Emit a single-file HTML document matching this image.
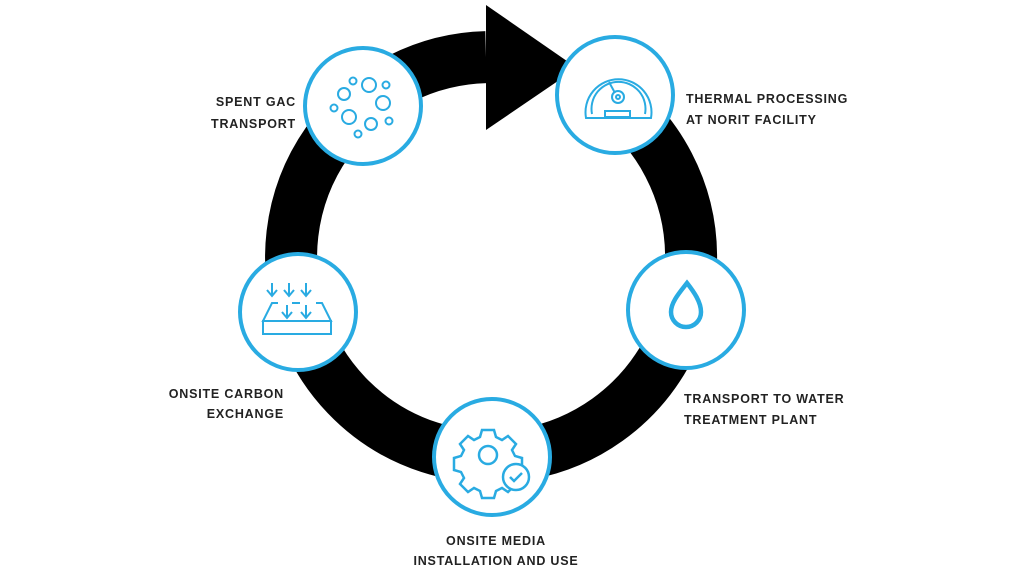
<!DOCTYPE html>
<html><head><meta charset="utf-8"><style>
body{margin:0;width:1024px;height:576px;background:#fff;overflow:hidden}
svg{display:block}
text{font-family:"Liberation Sans",sans-serif;font-weight:bold;font-size:12.5px;fill:#222;letter-spacing:0.8px}
</style></head><body>
<svg width="1024" height="576" viewBox="0 0 1024 576">
<path d="M612.5,98.1 A200,200 0 1 1 486,57.1" fill="none" stroke="#000" stroke-width="52"/>
<polygon points="486,5 486,130 577,68" fill="#000"/>
<g fill="#fff" stroke="#29abe2" stroke-width="4">
<circle cx="363" cy="106" r="58"/>
<circle cx="615" cy="95" r="58"/>
<circle cx="686" cy="310" r="58"/>
<circle cx="298" cy="312" r="58"/>
<circle cx="492" cy="457" r="58"/>
</g>
<g fill="none" stroke="#29abe2" stroke-width="2">
<circle cx="369" cy="85" r="7"/><circle cx="353" cy="81" r="3.5"/><circle cx="344" cy="94" r="6"/>
<circle cx="386" cy="85" r="3.5"/><circle cx="383" cy="103" r="7"/><circle cx="334" cy="108" r="3.5"/>
<circle cx="349" cy="117" r="7"/><circle cx="371" cy="124" r="6"/><circle cx="389" cy="121" r="3.5"/><circle cx="358" cy="134" r="3.5"/>
<path d="M586,118 A33,33 0 1 1 651,118 Z" stroke-width="2"/>
<path d="M592,114 A27,27 0 1 1 645,114"/>
<circle cx="618" cy="97" r="6"/><circle cx="618" cy="97" r="2"/>
<line x1="609" y1="82" x2="615" y2="93"/>
<rect x="605" y="111" width="25" height="6"/>
<path d="M687,283 C680,292 671,302 671,312 A15,15 0 0 0 701,312 C701,302 694,292 687,283 Z" stroke-width="4.5"/>
<path d="M272,283v12M267,290l5,6 5,-6M289,283v12M284,290l5,6 5,-6M306,283v12M301,290l5,6 5,-6"/>
<path d="M287,305v12M282,312l5,6 5,-6M306,305v12M301,312l5,6 5,-6"/>
<path d="M278,303h-6l-9,18h68l-9,-18h-6M292,303h8"/>
<rect x="263" y="321" width="68" height="13"/>
<path d="M482,430 h12 l2,7 6,3 6,-4 8,8 -4,6 3,6 7,2 v12 l-7,2 -3,6 4,6 -8,8 -6,-4 -6,3 -2,7 h-12 l-2,-7 -6,-3 -6,4 -8,-8 4,-6 -3,-6 -7,-2 v-12 l7,-2 3,-6 -4,-6 8,-8 6,4 6,-3 z" stroke-width="2.5"/>
<circle cx="488" cy="455" r="9" stroke-width="2.5"/>
<circle cx="516" cy="477" r="13" fill="#fff" stroke-width="2.5"/>
<path d="M510,477l4,4 8,-8" stroke-width="2.5"/>
</g>
<text x="296" y="106" text-anchor="end">SPENT GAC</text>
<text x="296" y="128" text-anchor="end">TRANSPORT</text>
<text x="686" y="103">THERMAL PROCESSING</text>
<text x="686" y="124">AT NORIT FACILITY</text>
<text x="684" y="403">TRANSPORT TO WATER</text>
<text x="684" y="424">TREATMENT PLANT</text>
<text x="284" y="398" text-anchor="end">ONSITE CARBON</text>
<text x="284" y="418" text-anchor="end">EXCHANGE</text>
<text x="496" y="545" text-anchor="middle">ONSITE MEDIA</text>
<text x="496" y="565" text-anchor="middle">INSTALLATION AND USE</text>
</svg>
</body></html>
